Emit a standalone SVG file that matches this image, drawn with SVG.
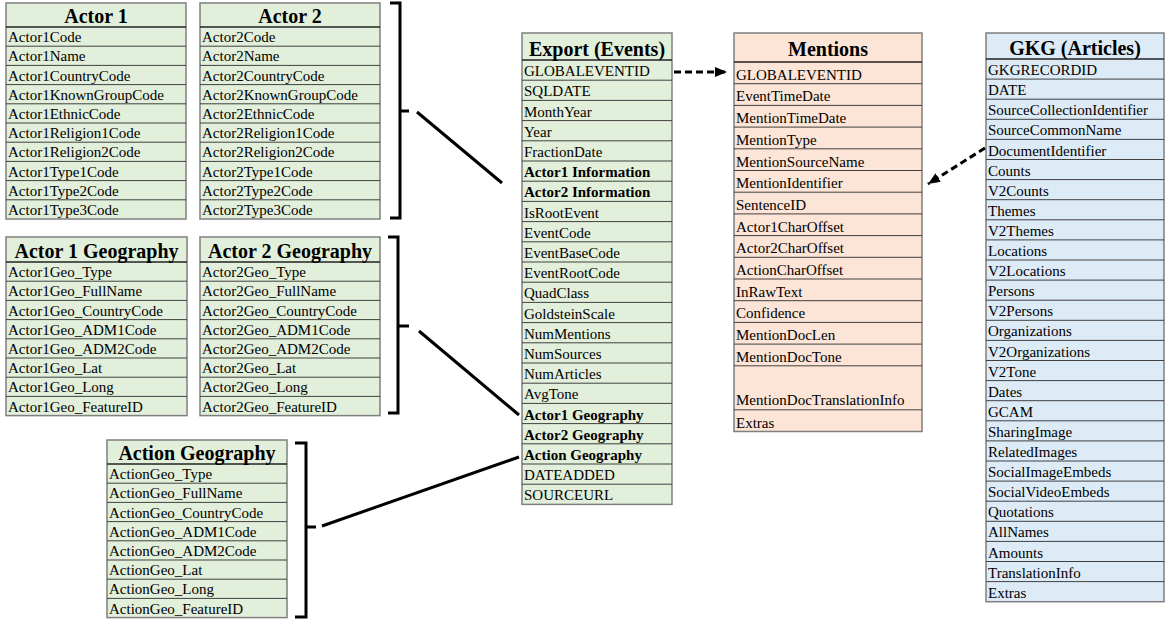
<svg xmlns="http://www.w3.org/2000/svg" width="1167" height="619" viewBox="0 0 1167 619">
<style>
.g{fill:#e2efda}.o{fill:#fce4d6}.b{fill:#ddebf7}
.box{stroke:#7f7f7f;stroke-width:1.5}
.rl{fill:none;stroke:#404040;stroke-width:1}
.hl{fill:none;stroke:#222;stroke-width:1.5}
text{font-family:"Liberation Serif","Times New Roman",serif;fill:#000}
.t{font-size:15px}
.bd{font-size:15px;font-weight:bold}
.h{font-size:20px;font-weight:bold;text-anchor:middle}
.br{fill:none;stroke:#000;stroke-width:3}
.ln{fill:none;stroke:#000;stroke-width:3}
.da{fill:none;stroke:#000;stroke-width:3;stroke-dasharray:7 4}
</style>
<defs>
<marker id="ah" markerUnits="userSpaceOnUse" markerWidth="12" markerHeight="10" refX="12" refY="5" orient="auto">
<path d="M0,0 L12,5 L0,10 z" fill="#000"/>
</marker>
</defs>
<rect width="1167" height="619" fill="#fff"/>

<g id="actor1">
<rect class="g box" x="6" y="3" width="180" height="216"/>
<path class="hl" d="M6 27H186"/>
<path class="rl" d="M6 46.2H186M6 65.4H186M6 84.6H186M6 103.8H186M6 123H186M6 142.2H186M6 161.4H186M6 180.6H186M6 199.8H186"/>
<text class="h" x="96" y="23">Actor 1</text>
<text class="t" x="8" y="42.2">Actor1Code</text>
<text class="t" x="8" y="61.4">Actor1Name</text>
<text class="t" x="8" y="80.6">Actor1CountryCode</text>
<text class="t" x="8" y="99.8">Actor1KnownGroupCode</text>
<text class="t" x="8" y="119">Actor1EthnicCode</text>
<text class="t" x="8" y="138.2">Actor1Religion1Code</text>
<text class="t" x="8" y="157.4">Actor1Religion2Code</text>
<text class="t" x="8" y="176.6">Actor1Type1Code</text>
<text class="t" x="8" y="195.8">Actor1Type2Code</text>
<text class="t" x="8" y="215">Actor1Type3Code</text>
</g>

<g id="actor2">
<rect class="g box" x="200" y="3" width="180" height="216"/>
<path class="hl" d="M200 27H380"/>
<path class="rl" d="M200 46.2H380M200 65.4H380M200 84.6H380M200 103.8H380M200 123H380M200 142.2H380M200 161.4H380M200 180.6H380M200 199.8H380"/>
<text class="h" x="290" y="23">Actor 2</text>
<text class="t" x="202" y="42.2">Actor2Code</text>
<text class="t" x="202" y="61.4">Actor2Name</text>
<text class="t" x="202" y="80.6">Actor2CountryCode</text>
<text class="t" x="202" y="99.8">Actor2KnownGroupCode</text>
<text class="t" x="202" y="119">Actor2EthnicCode</text>
<text class="t" x="202" y="138.2">Actor2Religion1Code</text>
<text class="t" x="202" y="157.4">Actor2Religion2Code</text>
<text class="t" x="202" y="176.6">Actor2Type1Code</text>
<text class="t" x="202" y="195.8">Actor2Type2Code</text>
<text class="t" x="202" y="215">Actor2Type3Code</text>
</g>

<g id="actor1geo">
<rect class="g box" x="6" y="237" width="181" height="178.6"/>
<path class="hl" d="M6 262H187"/>
<path class="rl" d="M6 281.2H187M6 300.4H187M6 319.6H187M6 338.8H187M6 358H187M6 377.2H187M6 396.4H187"/>
<text class="h" x="96.5" y="258">Actor 1 Geography</text>
<text class="t" x="8" y="277.2">Actor1Geo_Type</text>
<text class="t" x="8" y="296.4">Actor1Geo_FullName</text>
<text class="t" x="8" y="315.6">Actor1Geo_CountryCode</text>
<text class="t" x="8" y="334.8">Actor1Geo_ADM1Code</text>
<text class="t" x="8" y="354">Actor1Geo_ADM2Code</text>
<text class="t" x="8" y="373.2">Actor1Geo_Lat</text>
<text class="t" x="8" y="392.4">Actor1Geo_Long</text>
<text class="t" x="8" y="411.6">Actor1Geo_FeatureID</text>
</g>

<g id="actor2geo">
<rect class="g box" x="200" y="237" width="180" height="178.6"/>
<path class="hl" d="M200 262H380"/>
<path class="rl" d="M200 281.2H380M200 300.4H380M200 319.6H380M200 338.8H380M200 358H380M200 377.2H380M200 396.4H380"/>
<text class="h" x="290" y="258">Actor 2 Geography</text>
<text class="t" x="202" y="277.2">Actor2Geo_Type</text>
<text class="t" x="202" y="296.4">Actor2Geo_FullName</text>
<text class="t" x="202" y="315.6">Actor2Geo_CountryCode</text>
<text class="t" x="202" y="334.8">Actor2Geo_ADM1Code</text>
<text class="t" x="202" y="354">Actor2Geo_ADM2Code</text>
<text class="t" x="202" y="373.2">Actor2Geo_Lat</text>
<text class="t" x="202" y="392.4">Actor2Geo_Long</text>
<text class="t" x="202" y="411.6">Actor2Geo_FeatureID</text>
</g>

<g id="actiongeo">
<rect class="g box" x="107" y="440" width="180" height="177.6"/>
<path class="hl" d="M107 464H287"/>
<path class="rl" d="M107 483.2H287M107 502.4H287M107 521.6H287M107 540.8H287M107 560H287M107 579.2H287M107 598.4H287"/>
<text class="h" x="197" y="460">Action Geography</text>
<text class="t" x="109" y="479.2">ActionGeo_Type</text>
<text class="t" x="109" y="498.4">ActionGeo_FullName</text>
<text class="t" x="109" y="517.6">ActionGeo_CountryCode</text>
<text class="t" x="109" y="536.8">ActionGeo_ADM1Code</text>
<text class="t" x="109" y="556">ActionGeo_ADM2Code</text>
<text class="t" x="109" y="575.2">ActionGeo_Lat</text>
<text class="t" x="109" y="594.4">ActionGeo_Long</text>
<text class="t" x="109" y="613.6">ActionGeo_FeatureID</text>
</g>

<g id="export">
<rect class="g box" x="522" y="33" width="150" height="471.4"/>
<path class="hl" d="M522 60H672"/>
<path class="rl" d="M522 80.2H672M522 100.4H672M522 120.6H672M522 140.8H672M522 161H672M522 181.2H672M522 201.4H672M522 221.6H672M522 241.8H672M522 262H672M522 282.2H672M522 302.4H672M522 322.6H672M522 342.8H672M522 363H672M522 383.2H672M522 403.4H672M522 423.6H672M522 443.8H672M522 464H672M522 484.2H672"/>
<text class="h" x="597" y="56">Export (Events)</text>
<text class="t" x="524" y="76.2">GLOBALEVENTID</text>
<text class="t" x="524" y="96.4">SQLDATE</text>
<text class="t" x="524" y="116.6">MonthYear</text>
<text class="t" x="524" y="136.8">Year</text>
<text class="t" x="524" y="157">FractionDate</text>
<text class="bd" x="524" y="177.2">Actor1 Information</text>
<text class="bd" x="524" y="197.4">Actor2 Information</text>
<text class="t" x="524" y="217.6">IsRootEvent</text>
<text class="t" x="524" y="237.8">EventCode</text>
<text class="t" x="524" y="258">EventBaseCode</text>
<text class="t" x="524" y="278.2">EventRootCode</text>
<text class="t" x="524" y="298.4">QuadClass</text>
<text class="t" x="524" y="318.6">GoldsteinScale</text>
<text class="t" x="524" y="338.8">NumMentions</text>
<text class="t" x="524" y="359">NumSources</text>
<text class="t" x="524" y="379.2">NumArticles</text>
<text class="t" x="524" y="399.4">AvgTone</text>
<text class="bd" x="524" y="419.6">Actor1 Geography</text>
<text class="bd" x="524" y="439.8">Actor2 Geography</text>
<text class="bd" x="524" y="460">Action Geography</text>
<text class="t" x="524" y="480.2">DATEADDED</text>
<text class="t" x="524" y="500.4">SOURCEURL</text>
</g>

<g id="mentions">
<rect class="o box" x="734" y="33" width="188" height="398.5"/>
<path class="hl" d="M734 62H922"/>
<path class="rl" d="M734 83.7H922M734 105.4H922M734 127.1H922M734 148.8H922M734 170.5H922M734 192.2H922M734 213.9H922M734 235.6H922M734 257.3H922M734 279H922M734 300.7H922M734 322.4H922M734 344.1H922M734 365.8H922M734 409.8H922"/>
<text class="h" x="828" y="56">Mentions</text>
<text class="t" x="736" y="79.7">GLOBALEVENTID</text>
<text class="t" x="736" y="101.4">EventTimeDate</text>
<text class="t" x="736" y="123.1">MentionTimeDate</text>
<text class="t" x="736" y="144.8">MentionType</text>
<text class="t" x="736" y="166.5">MentionSourceName</text>
<text class="t" x="736" y="188.2">MentionIdentifier</text>
<text class="t" x="736" y="209.9">SentenceID</text>
<text class="t" x="736" y="231.6">Actor1CharOffset</text>
<text class="t" x="736" y="253.3">Actor2CharOffset</text>
<text class="t" x="736" y="275">ActionCharOffset</text>
<text class="t" x="736" y="296.7">InRawText</text>
<text class="t" x="736" y="318.4">Confidence</text>
<text class="t" x="736" y="340.1">MentionDocLen</text>
<text class="t" x="736" y="361.8">MentionDocTone</text>
<text class="t" x="736" y="405">MentionDocTranslationInfo</text>
<text class="t" x="736" y="427.5">Extras</text>
</g>

<g id="gkg">
<rect class="b box" x="986" y="33" width="178" height="568.7"/>
<path class="hl" d="M986 59H1164"/>
<path class="rl" d="M986 79.1H1164M986 99.2H1164M986 119.3H1164M986 139.4H1164M986 159.5H1164M986 179.6H1164M986 199.7H1164M986 219.8H1164M986 239.9H1164M986 260H1164M986 280.1H1164M986 300.2H1164M986 320.3H1164M986 340.4H1164M986 360.5H1164M986 380.6H1164M986 400.7H1164M986 420.8H1164M986 440.9H1164M986 461H1164M986 481.1H1164M986 501.2H1164M986 521.3H1164M986 541.4H1164M986 561.5H1164M986 581.6H1164"/>
<text class="h" x="1075" y="55">GKG (Articles)</text>
<text class="t" x="988" y="75.1">GKGRECORDID</text>
<text class="t" x="988" y="95.2">DATE</text>
<text class="t" x="988" y="115.3">SourceCollectionIdentifier</text>
<text class="t" x="988" y="135.4">SourceCommonName</text>
<text class="t" x="988" y="155.5">DocumentIdentifier</text>
<text class="t" x="988" y="175.6">Counts</text>
<text class="t" x="988" y="195.7">V2Counts</text>
<text class="t" x="988" y="215.8">Themes</text>
<text class="t" x="988" y="235.9">V2Themes</text>
<text class="t" x="988" y="256">Locations</text>
<text class="t" x="988" y="276.1">V2Locations</text>
<text class="t" x="988" y="296.2">Persons</text>
<text class="t" x="988" y="316.3">V2Persons</text>
<text class="t" x="988" y="336.4">Organizations</text>
<text class="t" x="988" y="356.5">V2Organizations</text>
<text class="t" x="988" y="376.6">V2Tone</text>
<text class="t" x="988" y="396.7">Dates</text>
<text class="t" x="988" y="416.8">GCAM</text>
<text class="t" x="988" y="436.9">SharingImage</text>
<text class="t" x="988" y="457">RelatedImages</text>
<text class="t" x="988" y="477.1">SocialImageEmbeds</text>
<text class="t" x="988" y="497.2">SocialVideoEmbeds</text>
<text class="t" x="988" y="517.3">Quotations</text>
<text class="t" x="988" y="537.4">AllNames</text>
<text class="t" x="988" y="557.5">Amounts</text>
<text class="t" x="988" y="577.6">TranslationInfo</text>
<text class="t" x="988" y="597.7">Extras</text>
</g>

<g id="connectors">
<path class="br" d="M390 3H400V218H390M400 111H409"/>
<path class="br" d="M388 237H398V413H388M398 326H409"/>
<path class="br" d="M295 443H306V617H295M306 527H316"/>
<path class="ln" d="M417 112L502 183"/>
<path class="ln" d="M419 331L519 415"/>
<path class="ln" d="M322 526L519 457"/>
<path class="da" d="M674 72H727" marker-end="url(#ah)"/>
<path class="da" d="M985 148L928 184" marker-end="url(#ah)"/>
</g>
</svg>
